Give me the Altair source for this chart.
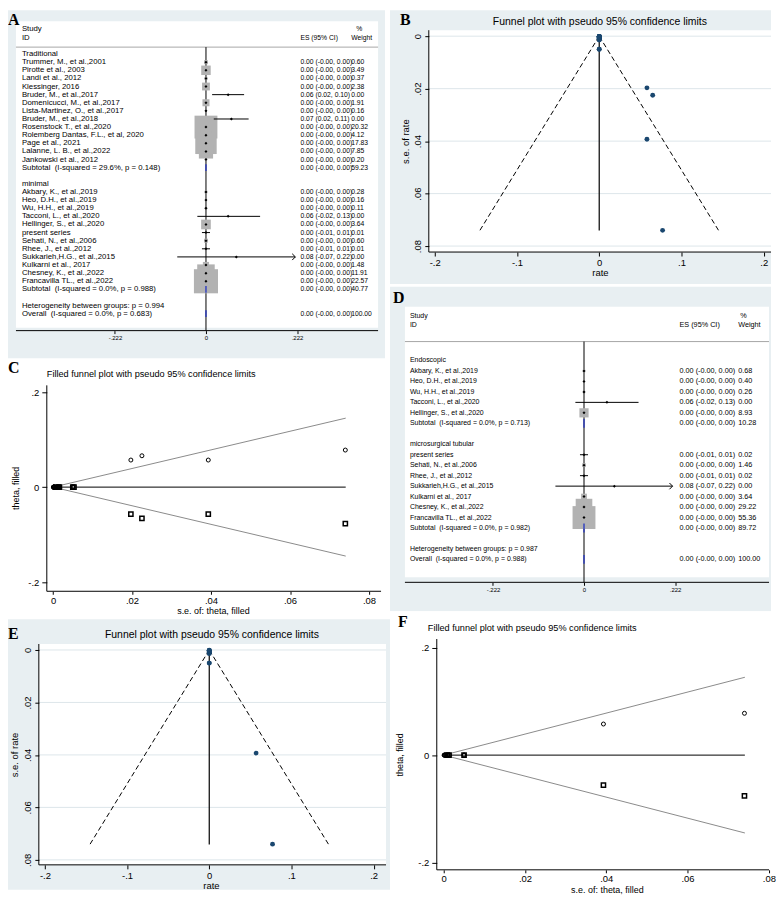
import altair as alt
import pandas as pd

FONT = "Liberation Sans"
SERIF = "Liberation Serif"
GREY = "#e8eff2"
GRID = "#dde6ea"
NAVY = "#1a476f"
BOXC = "#b2b2b2"
DIAMC = "#2c3cc0"
LIMC = "#8a8a8a"
ARROW = "M-1,-1L0,0L-1,1"
Z = "0.00 (-0.00, 0.00)"
SP = "\u00a0 "

# ---------------- Panel A: forest plot (Traditional / minimal) ----------------
a_names = ["Traditional", "Trummer, M., et al.,2001", "Pirotte et al., 2003", "Landi et al., 2012",
           "Klessinger, 2016", "Bruder, M., et al.,2017", "Domenicucci, M., et al.,2017",
           "Lista-Martinez, O., et al.,2017", "Bruder, M., et al.,2018", "Rosenstock T., et al.,2020",
           "Rolemberg Dantas, F.L., et al, 2020", "Page et al., 2021", "Lalanne, L. B., et al.,2022",
           "Jankowski et al., 2012", "Subtotal" + SP + "(I-squared = 29.6%, p = 0.148)", "",
           "minimal", "Akbary, K., et al.,2019", "Heo, D.H., et al.,2019", "Wu, H.H., et al.,2019",
           "Tacconi, L., et al.,2020", "Hellinger, S., et al.,2020", "present series",
           "Sehati, N., et al.,2006", "Rhee, J., et al.,2012", "Sukkarieh,H.G., et al.,2015",
           "Kulkarni et al., 2017", "Chesney, K., et al.,2022", "Francavilla TL., et al.,2022",
           "Subtotal" + SP + "(I-squared = 0.0%, p = 0.988)", "",
           "Heterogeneity between groups: p = 0.994", "Overall" + SP + "(I-squared = 0.0%, p = 0.683)"]
a_kind = ["g"] + ["s"] * 13 + ["t", "b", "g"] + ["s"] * 12 + ["t", "b", "h", "o"]
a_est = ["", Z, Z, Z, Z, "0.06 (0.02, 0.10)", Z, Z, "0.07 (0.02, 0.11)", Z, Z, Z, Z, Z, Z, "", "",
         Z, Z, Z, "0.06 (-0.02, 0.13)", Z, "0.00 (-0.01, 0.01)", Z, "0.00 (-0.01, 0.01)",
         "0.08 (-0.07, 0.22)", Z, Z, Z, Z, "", "", Z]
a_wt = ["", "0.60", "3.49", "0.37", "2.38", "0.00", "1.91", "0.16", "0.00", "20.32", "4.12", "17.83",
        "7.85", "0.20", "59.23", "", "", "0.28", "0.16", "0.11", "0.00", "3.64", "0.01", "0.60", "0.01",
        "0.00", "1.48", "11.91", "22.57", "40.77", "", "", "100.00"]
a_es = [None, 0, 0, 0, 0, 0.054, 0, 0, 0.062, 0, 0, 0, 0, 0, 0, None, None,
        0, 0, 0, 0.054, 0, 0, 0, 0, 0.074, 0, 0, 0, 0, None, None, 0]
a_lo = [None, -0.0013, -0.0005, -0.0016, -0.0006, 0.015, -0.0007, -0.0025, 0.019, -0.0002, -0.0005,
        -0.0002, -0.0004, -0.0022, 0, None, None, -0.0018, -0.0025, -0.003, -0.021, -0.0005, -0.0098,
        -0.0013, -0.0098, -0.070, -0.0008, -0.0003, -0.0002, 0, None, None, 0]
a_hi = [None, 0.0013, 0.0005, 0.0016, 0.0006, 0.093, 0.0007, 0.0025, 0.104, 0.0002, 0.0005,
        0.0002, 0.0004, 0.0022, 0, None, None, 0.0018, 0.0025, 0.003, 0.132, 0.0005, 0.0098,
        0.0013, 0.0098, 0.218, 0.0008, 0.0003, 0.0002, 0, None, None, 0]

# ---------------- Panel D: forest plot (Endoscopic / microsurgical tubular) ----------------
d_names = ["Endoscopic", "Akbary, K., et al.,2019", "Heo, D.H., et al.,2019", "Wu, H.H., et al.,2019",
           "Tacconi, L., et al.,2020", "Hellinger, S., et al.,2020",
           "Subtotal" + SP + "(I-squared = 0.0%, p = 0.713)", "", "microsurgical tubular",
           "present series", "Sehati, N., et al.,2006", "Rhee, J., et al.,2012",
           "Sukkarieh,H.G., et al.,2015", "Kulkarni et al., 2017", "Chesney, K., et al.,2022",
           "Francavilla TL., et al.,2022", "Subtotal" + SP + "(I-squared = 0.0%, p = 0.982)", "",
           "Heterogeneity between groups: p = 0.987", "Overall" + SP + "(I-squared = 0.0%, p = 0.988)"]
d_kind = ["g"] + ["s"] * 5 + ["t", "b", "g"] + ["s"] * 7 + ["t", "b", "h", "o"]
d_est = ["", Z, Z, Z, "0.06 (-0.02, 0.13)", Z, Z, "", "", "0.00 (-0.01, 0.01)", Z,
         "0.00 (-0.01, 0.01)", "0.08 (-0.07, 0.22)", Z, Z, Z, Z, "", "", Z]
d_wt = ["", "0.68", "0.40", "0.26", "0.00", "8.93", "10.28", "", "", "0.02", "1.46", "0.02", "0.00",
        "3.64", "29.22", "55.36", "89.72", "", "", "100.00"]
d_es = [None, 0, 0, 0, 0.056, 0, 0, None, None, 0, 0, 0, 0.074, 0, 0, 0, 0, None, None, 0]
d_lo = [None, -0.0017, -0.0022, -0.0027, -0.021, -0.0005, 0, None, None, -0.0098, -0.0011, -0.0098,
        -0.0697, -0.0007, -0.0003, -0.0002, 0, None, None, 0]
d_hi = [None, 0.0017, 0.0022, 0.0027, 0.133, 0.0005, 0, None, None, 0.0098, 0.0011, 0.0098,
        0.216, 0.0007, 0.0003, 0.0002, 0, None, None, 0]

# ---------------- Funnel plots B (all studies) and E (subset) ----------------
b_rate = [0, 0, 0, 0, 0.058, 0, 0, 0.065, 0, 0, 0, 0, 0, 0, 0, 0, 0.058, 0, 0, 0, 0, 0.077, 0, 0, 0]
b_se = [0.00065, 0.00027, 0.00082, 0.00032, 0.0197, 0.00036, 0.00125, 0.0225, 0.00011, 0.00025,
        0.00012, 0.00018, 0.0011, 0.00094, 0.00125, 0.0015, 0.0393, 0.00026, 0.0050, 0.00065,
        0.0050, 0.0740, 0.00041, 0.00014, 0.00011]
e_rate = [0, 0, 0, 0.057, 0, 0, 0, 0, 0.077, 0, 0, 0]
e_se = [0.00086, 0.0011, 0.0014, 0.0393, 0.00024, 0.0050, 0.00059, 0.0050, 0.0740, 0.00037,
        0.00013, 0.0001]
lim_x2 = [-0.1452, 0.1452, 0.0]
lim_y2 = [0.0741, 0.0741, 0.0741]
lim_dash = [1, 1, 0]
rate_ticks = [-0.2, -0.1, 0, 0.1, 0.2]
se_ticks = [0, 0.02, 0.04, 0.06, 0.08]

# ---------------- Filled funnel plots C (all) and F (subset) ----------------
c_obs_se = b_se
c_obs_theta = [0, 0, 0, 0, 0.057, 0, 0, 0.066, 0, 0, 0, 0, 0, 0, 0, 0, 0.057, 0, 0, 0, 0, 0.078, 0, 0, 0]
c_fill_se = [0.0197, 0.0225, 0.0393, 0.0740, 0.0053, 0.0050, 0.0013, 0.0016]
c_fill_theta = [-0.057, -0.066, -0.057, -0.077, 0, 0, 0, 0]
f_obs_se = e_se
f_obs_theta = [0, 0, 0, 0.058, 0, 0, 0, 0, 0.078, 0, 0, 0]
f_fill_se = [0.0393, 0.0740, 0.0050, 0.0009, 0.0013]
f_fill_theta = [-0.056, -0.076, 0, 0, 0]
fl_se2 = [0.0741, 0.0741, 0.0741]
fl_th2 = [0.1452, -0.1452, 0.0]
fl_col = [LIMC, LIMC, "black"]
theta_ticks = [-0.2, 0, 0.2]
sef_ticks = [0, 0.02, 0.04, 0.06, 0.08]

ONE = pd.DataFrame({"k": [0]})


def lab(n):
    return ("datum.value == 0 ? '0' : (datum.value < 0 ? '-' : '') + "
            f"substring(format(abs(datum.value), '.{n}f'), 1)")


def rect(x0, x1, y0, y1, color):
    return alt.Chart(ONE).mark_rect(color=color, opacity=1).encode(
        x=alt.value(x0), x2=alt.value(x1), y=alt.value(y0), y2=alt.value(y1))


def seg(x0, x1, y0, y1, color="black", width=1):
    return alt.Chart(ONE).mark_rule(color=color, strokeWidth=width).encode(
        x=alt.value(x0), x2=alt.value(x1), y=alt.value(y0), y2=alt.value(y1))


def txt(s, x, y, size, font=FONT, weight="normal", align="left", baseline="middle"):
    return alt.Chart(ONE).mark_text(text=s, font=font, fontSize=size, fontWeight=weight,
                                    align=align, baseline=baseline, color="black").encode(
        x=alt.value(x), y=alt.value(y))


def letter(s, x, y):
    return txt(s, x, y, 16, font=SERIF, weight="bold", baseline="alphabetic")


AX = dict(grid=False, domain=False, ticks=True, tickColor="black", tickWidth=1,
          labelFont=FONT, labelColor="black", titleFont=FONT, titleColor="black",
          titleFontWeight="normal", labelFlush=False, labelOverlap=False, zindex=1)


def forest(names, kind, est, wt, es, lo, hi, g, tag):
    P = g["P"]
    W, H = P[2] - P[0], P[3] - P[1]
    rx = lambda v: v - P[0]
    ry = lambda v: v - P[1]
    df = pd.DataFrame({"name": names, "kind": kind, "est": est, "wt": wt,
                       "es": es, "lo": lo, "hi": hi})
    df["row"] = list(range(len(df)))
    xs = alt.Scale(domain=[(P[0] - g["x0"]) / g["ppu"], (P[2] - g["x0"]) / g["ppu"]],
                   nice=False, zero=False)
    ys = alt.Scale(domain=[(P[1] - g["r0"]) / g["rh"], (P[3] - g["r0"]) / g["rh"]],
                   nice=False, zero=False, reverse=True)
    xax = alt.Axis(values=[-0.222, 0, 0.222], labelExpr=lab(3), tickSize=3, labelFontSize=6,
                   labelPadding=1, offset=-(P[3] - g["axis"]), **AX)
    X = lambda f: alt.X(f, type="quantitative", scale=xs, axis=xax, title=None)
    Y = lambda f: alt.Y(f, type="quantitative", scale=ys, axis=None)
    bx0, by0, bx1, by1 = g["box"]
    st = alt.Chart(df).transform_filter("datum.kind == 's'")
    pooled = alt.Chart(df).transform_filter("datum.kind == 't' || datum.kind == 'o'")
    fn, fe = g["fs_name"], g["fs_est"]
    layers = [
        rect(0, W, 0, H, "white"),
        rect(0, rx(g["grey"][0]), ry(g["grey"][1]), H, GREY),
        rect(rx(bx0), rx(bx1), ry(by0), ry(by1), "white"),
        seg(rx(bx0), rx(bx1), ry(g["head"]), ry(g["head"]), "#a6a6a6"),
        seg(rx(bx0), rx(bx1), ry(g["axis"]), ry(g["axis"])),
        alt.Chart(pd.DataFrame({"v": [0.0]})).mark_rule(color="black", strokeWidth=1).encode(
            x=X("v"), y=alt.value(ry(g["head"])), y2=alt.value(ry(g["axis"]))),
        st.transform_calculate(area=f"{g['k']} * toNumber(datum.wt)").mark_square(
            color=BOXC, opacity=1).encode(
            x=X("es"), y=Y("row"), size=alt.Size("area:Q", scale=None, legend=None)),
        st.mark_rule(color="black", strokeWidth=1).encode(x=X("lo"), x2="hi", y=Y("row")),
        st.mark_point(shape="diamond", filled=True, color="black", size=9, opacity=1).encode(
            x=X("es"), y=Y("row")),
        st.transform_filter("datum.hi > 0.2").mark_point(
            shape=ARROW, filled=False, color="black", size=40, strokeWidth=1, opacity=1).encode(
            x=X("hi"), y=Y("row")),
        pooled.transform_calculate(r1="datum.row - 0.42", r2="datum.row + 0.42").mark_rule(
            color=DIAMC, strokeWidth=1.4).encode(x=X("es"), y=Y("r1"), y2="r2"),
        alt.Chart(df).mark_text(align="left", baseline="middle", font=FONT, fontSize=fn,
                                color="black").encode(
            x=alt.value(rx(g["nx"])), y=Y("row"), text="name:N"),
        alt.Chart(df).mark_text(align="left", baseline="middle", font=FONT, fontSize=fe,
                                color="black").encode(
            x=alt.value(rx(g["ex"])), y=Y("row"), text="est:N"),
        alt.Chart(df).mark_text(align="left", baseline="middle", font=FONT, fontSize=fe,
                                color="black").encode(
            x=alt.value(rx(g["wx"])), y=Y("row"), text="wt:N"),
        txt("Study", rx(g["nx"]), ry(g["h1"]), fn),
        txt("ID", rx(g["nx"]), ry(g["h2"]), fn),
        txt("ES (95% CI)", rx(g["ex"]), ry(g["h2"]), fe),
        txt("%", rx(g["px"]), ry(g["h1"]), fe),
        txt("Weight", rx(g["wx"]), ry(g["h2"]), fe),
        letter(tag, rx(g["L"][0]), ry(g["L"][1])),
    ]
    return alt.layer(*layers).properties(width=W, height=H)


def funnel(rate, se, g, tag):
    P, R = g["P"], g["R"]
    W, H = P[2] - P[0], P[3] - P[1]
    rx = lambda v: v - P[0]
    ry = lambda v: v - P[1]
    xs = alt.Scale(domain=[(P[0] - g["x0"]) / g["xp"], (P[2] - g["x0"]) / g["xp"]],
                   nice=False, zero=False)
    ys = alt.Scale(domain=[(P[1] - g["y0"]) / g["yp"], (P[3] - g["y0"]) / g["yp"]],
                   nice=False, zero=False, reverse=True)
    xax = alt.Axis(values=rate_ticks, labelExpr=lab(1), tickSize=4, labelFontSize=9.5,
                   labelPadding=2, offset=-(P[3] - R[3]), title="rate",
                   titleX=g["xt"][0] - P[0], titleY=g["xt"][1] - R[3], titleAlign="center",
                   titleBaseline="middle", titleFontSize=9.5, **AX)
    yax = alt.Axis(values=se_ticks, labelExpr=lab(2), tickSize=4, labelFontSize=9.5,
                   labelPadding=2, labelAngle=270, labelAlign="center", labelBaseline="bottom",
                   offset=-(R[0] - P[0]), title="s.e. of rate", titleAngle=270,
                   titleX=g["yt"][0] - R[0], titleY=g["yt"][1] - P[1], titleAlign="center",
                   titleBaseline="middle", titleFontSize=9.5, **AX)
    X = lambda f: alt.X(f, type="quantitative", scale=xs, axis=xax)
    Y = lambda f: alt.Y(f, type="quantitative", scale=ys, axis=yax)
    lim = pd.DataFrame({"x1": [0.0] * 3, "y1": [0.0] * 3, "x2": lim_x2, "y2": lim_y2, "dash": lim_dash})
    pts = pd.DataFrame({"rate": rate, "se": se})
    layers = [
        rect(0, W, 0, H, "white"),
        rect(0, W, ry(g["grey_y0"]), ry(g["grey_y1"]), GREY),
        rect(rx(R[0]), rx(R[2]), ry(R[1]), ry(R[3]), "white"),
        alt.Chart(pd.DataFrame({"t": se_ticks})).mark_rule(color=GRID, strokeWidth=1).encode(
            y=Y("t"), x=alt.value(rx(R[0])), x2=alt.value(rx(R[2]))),
        seg(rx(R[0]), rx(R[0]), ry(R[1]), ry(R[3])),
        seg(rx(R[0]), rx(R[2]), ry(R[3]), ry(R[3])),
        alt.Chart(lim).transform_filter("datum.dash == 1").mark_rule(
            color="black", strokeWidth=1, strokeDash=[5, 3]).encode(
            x=X("x1"), x2="x2", y=Y("y1"), y2="y2"),
        alt.Chart(lim).transform_filter("datum.dash == 0").mark_rule(
            color="black", strokeWidth=1.2).encode(x=X("x1"), x2="x2", y=Y("y1"), y2="y2"),
        alt.Chart(pts).mark_circle(color=NAVY, size=24, opacity=1).encode(
            x=X("rate"), y=Y("se")),
        txt("Funnel plot with pseudo 95% confidence limits", rx(g["T"][0]), ry(g["T"][1]),
            10.5, align="center"),
        letter(tag, rx(g["L"][0]), ry(g["L"][1])),
    ]
    return alt.layer(*layers).properties(width=W, height=H)


def filled(obs_se, obs_th, fill_se, fill_th, g, tag):
    P, R = g["P"], g["R"]
    W, H = P[2] - P[0], P[3] - P[1]
    rx = lambda v: v - P[0]
    ry = lambda v: v - P[1]
    xs = alt.Scale(domain=[(P[0] - g["x0"]) / g["xp"], (P[2] - g["x0"]) / g["xp"]],
                   nice=False, zero=False)
    ys = alt.Scale(domain=[(g["y0"] - P[3]) / g["yp"], (g["y0"] - P[1]) / g["yp"]],
                   nice=False, zero=False)
    xax = alt.Axis(values=sef_ticks, labelExpr=lab(2), tickSize=3, labelFontSize=9.5,
                   labelPadding=1, offset=-(P[3] - R[3]), title="s.e. of: theta, filled",
                   titleX=g["xt"][0] - P[0], titleY=g["xt"][1] - R[3], titleAlign="center",
                   titleBaseline="middle", titleFontSize=9, **AX)
    yax = alt.Axis(values=theta_ticks, labelExpr=lab(1), tickSize=5, labelFontSize=9.5,
                   labelPadding=3, labelAngle=0, labelAlign="right", labelBaseline="middle",
                   offset=-(R[0] - P[0]), title="theta, filled", titleAngle=270,
                   titleX=g["yt"][0] - R[0], titleY=g["yt"][1] - P[1], titleAlign="center",
                   titleBaseline="middle", titleFontSize=9, **AX)
    X = lambda f: alt.X(f, type="quantitative", scale=xs, axis=xax)
    Y = lambda f: alt.Y(f, type="quantitative", scale=ys, axis=yax)
    lim = pd.DataFrame({"s1": [0.0] * 3, "t1": [0.0] * 3, "s2": fl_se2, "t2": fl_th2, "c": fl_col})
    obs = pd.DataFrame({"se": obs_se, "theta": obs_th})
    fil = pd.DataFrame({"se": fill_se, "theta": fill_th})
    layers = [
        rect(0, W, 0, H, "white"),
        seg(rx(R[0]), rx(R[0]), ry(R[1]), ry(R[3])),
        seg(rx(R[0]), rx(R[2]), ry(R[3]), ry(R[3])),
        alt.Chart(lim).mark_rule(strokeWidth=1).encode(
            x=X("s1"), x2="s2", y=Y("t1"), y2="t2", color=alt.Color("c:N", scale=None)),
        alt.Chart(obs).mark_point(shape="circle", filled=False, color="black", size=16,
                                  strokeWidth=1, opacity=1).encode(x=X("se"), y=Y("theta")),
        alt.Chart(fil).mark_point(shape="square", filled=False, color="black", size=18,
                                  strokeWidth=1.5, opacity=1).encode(x=X("se"), y=Y("theta")),
        txt("Filled funnel plot with pseudo 95% confidence limits", rx(g["T"][0]),
            ry(g["T"][1]), 9.2),
        letter(tag, rx(g["L"][0]), ry(g["L"][1])),
    ]
    return alt.layer(*layers).properties(width=W, height=H)


A = forest(a_names, a_kind, a_est, a_wt, a_es, a_lo, a_hi, dict(
    P=(8, 8, 392, 358), x0=207, ppu=412.2, r0=52, rh=8.156, grey=(387, 8),
    box=(16, 19, 380, 327), head=45, axis=330, nx=22, ex=302, wx=353, px=358, h1=26.5, h2=36,
    fs_name=7.8, fs_est=6.8, k=26, L=(8, 23)), "A")

D = forest(d_names, d_kind, d_est, d_wt, d_es, d_lo, d_hi, dict(
    P=(392, 285, 775, 612), x0=587, ppu=412.2, r0=360, rh=10.526, grey=(775, 286),
    box=(407, 306, 773, 578), head=341, axis=583, nx=412, ex=683, wx=742, px=744, h1=315, h2=324,
    fs_name=7, fs_est=7.3, k=9.55, L=(395, 302)), "D")

B = funnel(b_rate, b_se, dict(
    P=(392, 8, 775, 285), R=(431, 28, 775, 251), x0=602.3, xp=827, y0=34, yp=2637.5,
    grey_y0=8, grey_y1=283, xt=(603, 272), yt=(408, 139.5), T=(603, 20), L=(402, 23)), "B")

E = funnel(e_rate, e_se, dict(
    P=(8, 620, 392, 892), R=(39, 645, 388, 867), x0=210.3, xp=826, y0=651, yp=2637.5,
    grey_y0=620, grey_y1=892, xt=(212, 888), yt=(15, 756), T=(213, 636), L=(8, 640)), "E")

C = filled(c_obs_se, c_obs_theta, c_fill_se, c_fill_theta, dict(
    P=(8, 358, 392, 620), R=(47, 385, 383, 592), x0=53.3, xp=3970, y0=487.3, yp=477.5,
    xt=(214, 611), yt=(16, 488), T=(47, 374), L=(8, 373)), "C")

F = filled(f_obs_se, f_obs_theta, f_fill_se, f_fill_theta, dict(
    P=(392, 612, 775, 892), R=(439, 640, 773, 872), x0=446, xp=4085, y0=756.7, yp=539,
    xt=(610, 892), yt=(402, 756), T=(430, 629), L=(400, 628)), "F")

left = alt.vconcat(A, C, E, spacing=0)
right = alt.vconcat(B, D, F, spacing=0)
chart = alt.hconcat(left, right, spacing=0).properties(
    padding=0, background="white").configure_view(stroke=None)

chart.save("out.html", embed_options={"renderer": "svg", "actions": False})
